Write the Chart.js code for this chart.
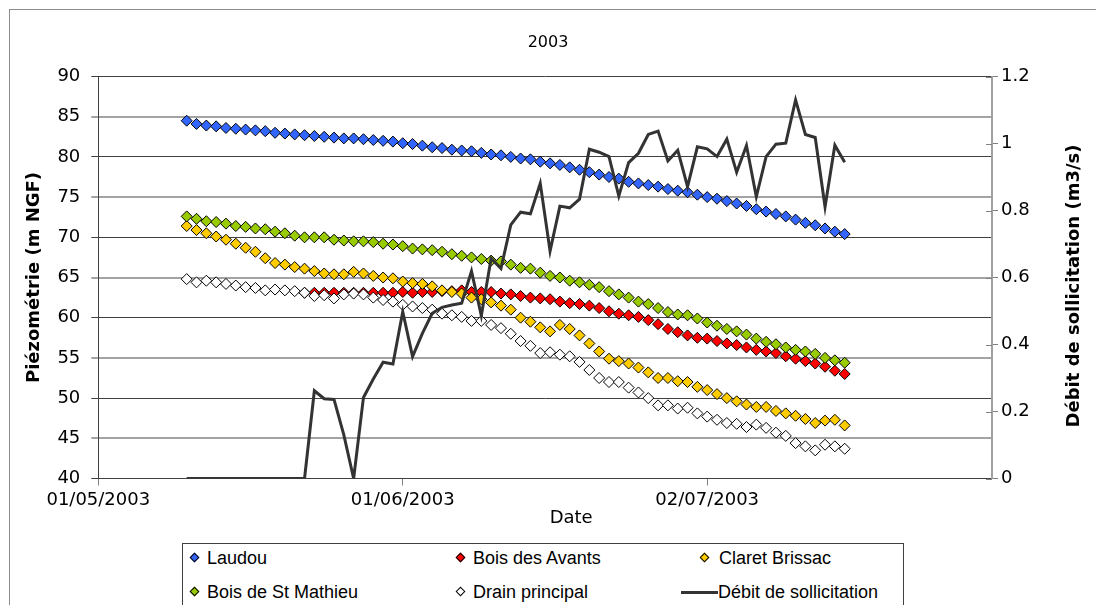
<!DOCTYPE html>
<html>
<head>
<meta charset="utf-8">
<script src="https://cdn.jsdelivr.net/npm/chart.js@4.4.1/dist/chart.umd.min.js"></script>
<style>
html,body{margin:0;padding:0;background:#fff;}
#wrap{position:relative;width:1096px;height:605px;overflow:hidden;font-family:'Liberation Sans',Arial,sans-serif;}
#frame{position:absolute;left:9px;top:9px;width:1200px;height:800px;border:1px solid #8c8c8c;box-sizing:border-box;}
#chart{position:absolute;left:0;top:0;}
#legend{position:absolute;left:182px;top:543px;width:722px;height:100px;border:1px solid #404040;background:#fff;box-sizing:border-box;}
.item{position:absolute;font-size:18px;line-height:20px;color:#000;white-space:nowrap;}
.mk{position:absolute;width:7px;height:7px;transform:rotate(45deg);border:1px solid #000;box-sizing:border-box;}
.ln{position:absolute;height:3px;background:#333;}
</style>
</head>
<body>
<div id="wrap">
  <div id="frame"></div>
  <canvas id="chart" width="1096" height="605"></canvas>
  <div id="legend"></div>
</div>
<script>
// ---------- data ----------
const dates = [
 "10/05/2003","11/05/2003","12/05/2003","13/05/2003","14/05/2003","15/05/2003","16/05/2003","17/05/2003","18/05/2003","19/05/2003","20/05/2003",
 "21/05/2003","22/05/2003","23/05/2003","24/05/2003","25/05/2003","26/05/2003","27/05/2003","28/05/2003","29/05/2003","30/05/2003","31/05/2003",
 "01/06/2003","02/06/2003","03/06/2003","04/06/2003","05/06/2003","06/06/2003","07/06/2003","08/06/2003","09/06/2003","10/06/2003",
 "11/06/2003","12/06/2003","13/06/2003","14/06/2003","15/06/2003","16/06/2003","17/06/2003","18/06/2003","19/06/2003","20/06/2003",
 "21/06/2003","22/06/2003","23/06/2003","24/06/2003","25/06/2003","26/06/2003","27/06/2003","28/06/2003","29/06/2003","30/06/2003",
 "01/07/2003","02/07/2003","03/07/2003","04/07/2003","05/07/2003","06/07/2003","07/07/2003","08/07/2003","09/07/2003","10/07/2003",
 "11/07/2003","12/07/2003","13/07/2003","14/07/2003","15/07/2003","16/07/2003"
];
const laudou = [
 84.5,84.1,83.9,83.8,83.6,83.5,83.4,83.3,83.2,83.0,82.9,82.8,82.7,82.6,82.5,82.4,82.3,82.3,82.2,82.1,82.0,81.9,81.7,81.6,
 81.4,81.2,81.1,80.9,80.8,80.7,80.5,80.3,80.2,80.0,79.8,79.7,79.4,79.2,79.0,78.7,78.4,78.1,77.8,77.5,77.3,76.9,76.7,76.5,
 76.3,76.0,75.8,75.6,75.3,75.0,74.8,74.5,74.2,73.9,73.5,73.2,72.9,72.6,72.2,71.8,71.5,71.1,70.7,70.4
];
const boisAvants = [
 null,null,null,null,null,null,null,null,null,null,null,null,
 63.1,63.1,63.1,63.1,63.1,63.1,63.1,63.1,63.1,63.1,
 63.2,63.1,63.2,63.2,63.3,63.3,63.4,63.2,63.2,63.2,63.0,62.9,62.7,62.5,62.4,62.3,62.0,61.8,61.7,61.5,61.2,60.8,60.5,60.3,
 60.1,59.7,59.2,58.6,58.2,57.8,57.5,57.4,57.1,56.8,56.6,56.3,56.0,55.8,55.6,55.2,54.9,54.6,54.3,53.9,53.4,53.0
];
const claretBrissac = [
 71.4,70.9,70.5,70.1,69.7,69.2,68.7,68.2,67.4,66.8,66.6,66.3,66.1,65.8,65.5,65.4,65.4,65.7,65.5,65.2,65.0,64.9,64.5,
 64.3,64.2,63.9,63.4,63.2,63.0,62.5,62.3,61.9,61.5,61.0,60.0,59.5,58.8,58.3,59.1,58.6,57.8,56.8,55.8,54.9,54.6,54.3,
 53.8,53.2,52.5,52.5,52.1,52.0,51.4,51.0,50.5,50.0,49.6,49.2,48.9,48.9,48.4,48.1,47.8,47.4,46.9,47.2,47.3,46.6
];
const boisStMathieu = [
 72.6,72.3,72.0,71.9,71.7,71.4,71.3,71.1,71.0,70.7,70.5,70.2,70.0,70.0,70.0,69.7,69.6,69.5,69.5,69.4,69.2,69.1,68.9,
 68.6,68.5,68.4,68.2,67.9,67.7,67.5,67.3,67.1,67.0,66.6,66.2,66.1,65.6,65.2,65.0,64.6,64.4,64.1,63.8,63.3,62.9,62.5,
 62.0,61.7,61.2,60.7,60.4,60.3,59.9,59.4,59.0,58.6,58.3,57.9,57.4,57.0,56.7,56.3,56.0,55.8,55.5,55.0,54.7,54.4
];
const drainPrincipal = [
 64.8,64.4,64.6,64.4,64.2,64.0,63.8,63.7,63.4,63.5,63.4,63.3,63.1,62.7,62.8,62.4,62.9,63.0,62.9,62.5,62.2,62.0,61.6,61.4,
 61.2,61.0,60.5,60.3,60.1,59.6,59.6,59.1,58.7,58.0,57.1,56.5,55.6,55.7,55.4,55.2,54.5,53.5,52.5,52.0,52.0,51.3,
 50.7,50.0,49.1,49.1,48.7,48.8,48.1,47.7,47.3,46.9,46.8,46.4,46.7,46.3,45.7,45.3,44.4,44.0,43.5,44.2,44.0,43.7
];
const debit = [
 0,0,0,0,0,0,0,0,0,0,0,0,0,
 0.262,0.238,0.236,0.13,0,0.242,0.297,0.347,0.342,0.498,0.364,0.433,0.493,0.511,0.518,0.523,0.619,0.486,0.657,0.627,
 0.757,0.795,0.79,0.881,0.679,0.813,0.808,0.834,0.983,0.974,0.961,0.843,0.943,0.971,1.027,1.037,0.948,0.98,0.871,0.99,
 0.984,0.961,1.013,0.914,0.994,0.841,0.961,0.998,1.001,1.13,1.027,1.018,0.811,0.995,0.944
];
const xTickLabels = ["01/05/2003","01/06/2003","02/07/2003"];
const xAxisStart = "01/05/2003";
const xAxisEnd = "31/07/2003";

// ---------- helpers ----------
function dayIndex(s){
  const p = s.split('/').map(Number);
  return Math.round((Date.UTC(p[2],p[1]-1,p[0]) - Date.UTC(2003,4,1)) / 86400000);
}
const xs = dates.map(dayIndex);
const pts = arr => arr.map((v,i)=>({x:xs[i], y:v}));
const FONT = "'DejaVu Sans', 'Liberation Sans', Arial, sans-serif";

function markerSet(color, order){
  return {showLine:false, pointStyle:'rectRot', pointRadius:5.5, pointHoverRadius:5.5,
    pointBackgroundColor:color, pointBorderColor:'#000', pointBorderWidth:1,
    backgroundColor:color, borderColor:'#000', yAxisID:'y', order:order};
}

const datasets = [
  Object.assign({label:'Laudou', data:pts(laudou)}, markerSet('#3366FF',5)),
  Object.assign({label:'Bois des Avants', data:pts(boisAvants)}, markerSet('#FF0000',4)),
  Object.assign({label:'Claret Brissac', data:pts(claretBrissac)}, markerSet('#FFCC00',3)),
  Object.assign({label:'Bois de St Mathieu', data:pts(boisStMathieu)}, markerSet('#99CC00',2)),
  Object.assign({label:'Drain principal', data:pts(drainPrincipal)}, markerSet('#FFFFFF',1)),
  {label:'Débit de sollicitation', data:pts(debit), yAxisID:'y1', borderColor:'#333333', backgroundColor:'#333333',
   borderWidth:3, pointRadius:0, tension:0, order:0, fill:false}
];

const extras = {
  id:'extras',
  afterDraw(chart){
    const c = chart.ctx, a = chart.chartArea, y1 = chart.scales.y1;
    c.save();
    c.strokeStyle = '#808080'; c.lineWidth = 1;
    y1.ticks.forEach(t=>{
      const py = Math.round(y1.getPixelForValue(t.value)) + 0.5;
      c.beginPath(); c.moveTo(a.right-6, py); c.lineTo(a.right, py); c.stroke();
    });
    c.fillStyle = '#000';
    c.font = "bold 18px " + FONT;
    c.textAlign = 'center'; c.textBaseline = 'middle';
    c.translate(1074, 286); c.rotate(-Math.PI/2);
    c.fillText('Débit de sollicitation (m3/s)', 0, 0);
    c.restore();
    c.save();
    c.fillStyle = '#000'; c.font = "18px " + FONT;
    c.textAlign = 'center'; c.textBaseline = 'middle';
    c.fillText('Date', (a.left + a.right)/2 + 26, 518);
    c.restore();
  }
};

const tickFont = {family:FONT, size:18};
const chart = new Chart(document.getElementById('chart'), {
  type:'line',
  data:{datasets},
  options:{
    responsive:false, animation:false, devicePixelRatio:1,
    layout:{padding:0},
    plugins:{
      legend:{display:false}, tooltip:{enabled:false},
      title:{display:true, text:'2003', color:'#000', font:{family:FONT, size:16, weight:'normal'}, padding:{top:33, bottom:24.3}}
    },
    scales:{
      x:{type:'linear', position:'bottom', min:dayIndex(xAxisStart), max:dayIndex(xAxisEnd),
         afterBuildTicks:s=>{ s.ticks = xTickLabels.map(l=>({value:dayIndex(l)})); },
         ticks:{autoSkip:false, maxRotation:0, color:'#000', font:tickFont, padding:4,
                callback:(v)=>{ const i = xTickLabels.findIndex(l=>dayIndex(l)===v); return i>=0 ? xTickLabels[i] : ''; }},
         grid:{drawOnChartArea:false, color:'#808080', tickLength:7},
         border:{color:'#404040'},
         afterFit:s=>{ s.height = 126.5; }},
      y:{position:'left', min:40, max:90,
         ticks:{stepSize:5, color:'#000', font:tickFont, padding:11},
         grid:{color:c=> (c.tick && c.tick.value%10===0) ? '#404040' : '#a3a3a3',
               lineWidth:c=> (c.tick && c.tick.value%10===0) ? 1 : 2, tickLength:7},
         border:{color:'#404040'},
         title:{display:true, text:'Piézométrie (m NGF)', color:'#000', font:{family:FONT, size:18, weight:'bold'}, padding:{top:24, bottom:0}},
         afterFit:s=>{ s.width = 98.3; }},
      y1:{position:'right', min:0, max:1.2,
         ticks:{stepSize:0.2, color:'#000', font:tickFont, padding:3, callback:v=>String(Math.round(v*10)/10)},
         grid:{drawOnChartArea:false, color:'#808080', tickLength:6},
         border:{color:'#a0a0a0', width:2},
         afterFit:s=>{ s.width = 104; }}
    }
  },
  plugins:[extras]
});

// ---------- legend (HTML, from the chart's datasets) ----------
const legendSlots = [
  {mx:12, tx:24, y:14}, {mx:278, tx:290, y:14}, {mx:522, tx:536, y:14},
  {mx:12, tx:24, y:48}, {mx:278, tx:290, y:48}, {mx:498, tx:535, y:48}
];
const lg = document.getElementById('legend');
chart.data.datasets.forEach((ds,i)=>{
  const s = legendSlots[i];
  if (ds.showLine === false){
    const m = document.createElement('div'); m.className='mk';
    m.style.left = (s.mx-4)+'px'; m.style.top = (s.y-4)+'px'; m.style.background = ds.pointBackgroundColor;
    lg.appendChild(m);
  } else {
    const l = document.createElement('div'); l.className='ln';
    l.style.left = s.mx+'px'; l.style.width = (s.tx - s.mx)+'px'; l.style.top = (s.y-1.5)+'px';
    lg.appendChild(l);
  }
  const t = document.createElement('div'); t.className='item';
  t.textContent = ds.label; t.style.left = s.tx+'px'; t.style.top = (s.y-10)+'px';
  lg.appendChild(t);
});
</script>
</body>
</html>
